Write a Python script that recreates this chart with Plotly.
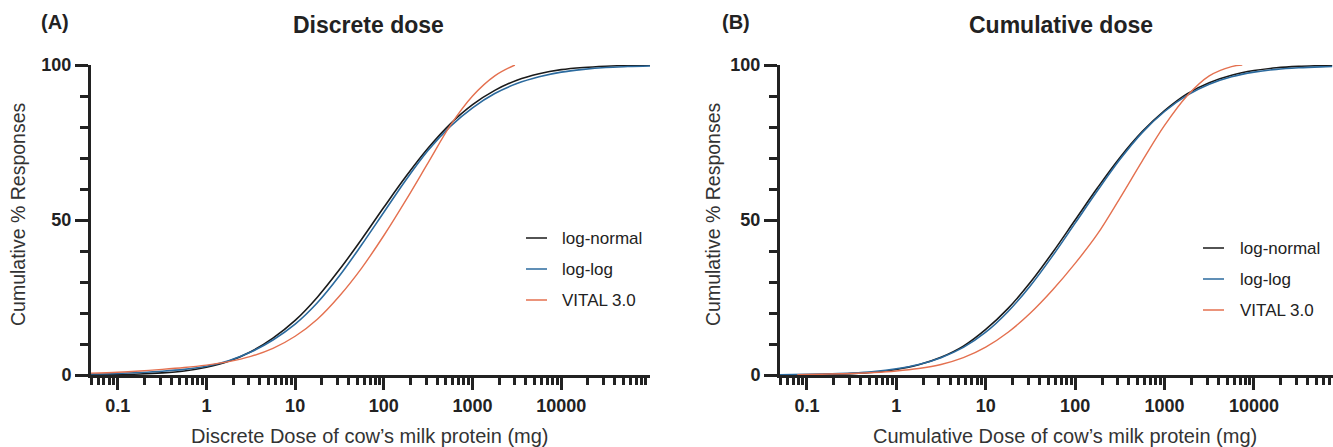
import math
import plotly.graph_objects as go

# ---------------- data ----------------
dose_a = [0.05, 0.1, 0.178, 0.316, 0.562, 1, 1.78, 3.16, 5.62, 10, 17.8, 31.6, 56.2,
          100, 178, 316, 562, 1000, 1780, 3160, 5620, 10000, 17800, 31600, 56200, 100000]
a_lognormal = [0.05, 0.14, 0.32, 0.67, 1.3, 2.5, 4.4, 7.5, 11.9, 17.6, 25.1, 34.0, 43.8,
               54.1, 64.1, 73.2, 81.0, 87.2, 91.8, 95.1, 97.2, 98.5, 99.2, 99.6, 99.84, 99.93]
a_loglog = [0.3, 0.5, 0.8, 1.2, 1.8, 2.8, 4.6, 7.4, 11.3, 16.4, 23.3, 32.0, 42.0,
            52.5, 63.0, 72.5, 80.2, 86.2, 90.8, 94.0, 96.2, 97.7, 98.6, 99.2, 99.5, 99.7]
dose_a_vital = [0.05, 0.1, 0.178, 0.316, 0.562, 1, 1.78, 3.16, 5.62, 10, 17.8, 31.6, 56.2,
                100, 178, 316, 562, 1000, 1780, 3000]
a_vital = [0.6, 0.9, 1.3, 1.8, 2.4, 3.2, 4.3, 6.0, 8.6, 12.5, 18.0, 25.5, 34.5,
           45.0, 56.5, 68.5, 80.5, 90.0, 96.5, 100.0]

dose_b = [0.05, 0.1, 0.178, 0.316, 0.562, 1, 1.78, 3.16, 5.62, 10, 17.8, 31.6, 56.2,
          100, 178, 316, 562, 1000, 1780, 3160, 5620, 10000, 17800, 31600, 56200, 75000]
b_lognormal = [0.03, 0.08, 0.19, 0.43, 0.9, 1.8, 3.3, 5.7, 9.3, 14.7, 21.5, 29.9, 39.6,
               50.0, 60.4, 70.1, 78.5, 85.3, 90.7, 94.3, 96.7, 98.2, 99.1, 99.57, 99.8, 99.9]
b_loglog = [0.1, 0.2, 0.35, 0.6, 1.1, 2.0, 3.4, 5.6, 8.9, 13.8, 20.5, 28.8, 38.5,
            49.0, 59.5, 69.5, 78.2, 85.0, 90.2, 93.8, 96.2, 97.7, 98.6, 99.1, 99.4, 99.5]
dose_b_vital = [0.078, 0.1, 0.178, 0.316, 0.562, 1, 1.78, 3.16, 5.62, 10, 17.8, 31.6, 56.2,
                100, 178, 316, 562, 1000, 1780, 3160, 5620, 7400]
b_vital = [0.1, 0.15, 0.3, 0.5, 0.8, 1.3, 2.1, 3.4, 5.6, 9.0, 13.8, 20.0, 27.5,
           36.0, 45.5, 57.0, 69.0, 80.5, 90.0, 96.5, 99.5, 100.0]

series_names = ["log-normal", "log-log", "VITAL 3.0"]
x_tick_vals = [0.1, 1, 10, 100, 1000, 10000]
x_tick_text = ["0.1", "1", "10", "100", "1000", "10000"]
y_tick_vals = [0, 50, 100]
titles = ["Discrete dose", "Cumulative dose"]
panel_labels = ["(A)", "(B)"]
x_titles = ["Discrete Dose of cow\u2019s milk protein (mg)",
            "Cumulative Dose of cow\u2019s milk protein (mg)"]
y_title = "Cumulative % Responses"

# ---------------- styling ----------------
W, H = 1333, 447
FONT = "Liberation Sans, Arial, Helvetica, sans-serif"
colors = ["#1a1a1a", "#2b6a9e", "#e4704f"]
AX = "#222222"

minor_x = [m * 10.0 ** e for e in range(-2, 6) for m in range(2, 10)]
minor_x = [v for v in minor_x if 0.05 <= v <= 100000]
minor_y = [10, 20, 30, 40, 60, 70, 80, 90]

fig = go.Figure()
panels = [
    ("x", "y", dose_a, a_lognormal, a_loglog, dose_a_vital, a_vital),
    ("x2", "y2", dose_b, b_lognormal, b_loglog, dose_b_vital, b_vital),
]
for xa, ya, d, ln, ll, dv, vt in panels:
    for name, xs, ys, c, w in [(series_names[0], d, ln, colors[0], 1.6),
                               (series_names[1], d, ll, colors[1], 1.6),
                               (series_names[2], dv, vt, colors[2], 1.4)]:
        fig.add_trace(go.Scatter(x=xs, y=ys, mode="lines", name=name, xaxis=xa, yaxis=ya,
                                 line=dict(color=c, width=w, shape="spline", smoothing=1.0),
                                 showlegend=False, hoverinfo="x+y+name"))

# plot area pixel geometry
top_px, bot_px = 65, 375
ph = bot_px - top_px
def py(px):
    return (bot_px - px) / ph

xdomA = [91 / W, 650 / W]
xdomB = [780 / W, 1.0]

TICKFONT = dict(family=FONT, size=18, color=AX, weight="bold")

def xaxis(dom, rng, anchor):
    return dict(domain=dom, type="log", range=rng, anchor=anchor,
                showline=True, linewidth=3, linecolor=AX, mirror=False,
                showgrid=False, zeroline=False,
                ticks="outside", ticklen=12, tickwidth=3, tickcolor=AX,
                tickvals=x_tick_vals, ticktext=x_tick_text,
                tickfont=TICKFONT,
                minor=dict(tickvals=minor_x, ticks="outside", ticklen=7, tickwidth=3,
                           tickcolor=AX, showgrid=False),
                fixedrange=True)

def yaxis(anchor):
    return dict(domain=[0, 1], range=[0, 100], anchor=anchor,
                showline=True, linewidth=3, linecolor=AX,
                showgrid=False, zeroline=False,
                ticks="outside", ticklen=13, tickwidth=3, tickcolor=AX,
                tickvals=y_tick_vals,
                tickfont=TICKFONT,
                minor=dict(tickvals=minor_y, ticks="outside", ticklen=8, tickwidth=3,
                           tickcolor=AX, showgrid=False),
                fixedrange=True)

fig.update_layout(
    width=W, height=H,
    margin=dict(l=0, r=0, t=top_px, b=H - bot_px),
    paper_bgcolor="white", plot_bgcolor="white",
    xaxis=xaxis(xdomA, [math.log10(0.05), 5.0], "y"),
    yaxis=yaxis("x"),
    xaxis2=xaxis(xdomB, [math.log10(0.05), 4.884], "y2"),
    yaxis2=yaxis("x2"),
    showlegend=False,
    font=dict(family=FONT, color="#333333"),
)

ann = []
for lab, lx in zip(panel_labels, [55, 736]):
    ann.append(dict(text=lab, x=lx / W, y=py(22), xref="paper", yref="paper",
                    showarrow=False, xanchor="center", yanchor="middle",
                    font=dict(family=FONT, size=20, color="#222", weight="bold")))
for t, tx in zip(titles, [368, 1061]):
    ann.append(dict(text=t, x=tx / W, y=py(25), xref="paper", yref="paper",
                    showarrow=False, xanchor="center", yanchor="middle",
                    font=dict(family=FONT, size=23, color="#222", weight="bold")))
for t, tx in zip(x_titles, [370, 1065]):
    ann.append(dict(text=t, x=tx / W, y=py(436), xref="paper", yref="paper",
                    showarrow=False, xanchor="center", yanchor="middle",
                    font=dict(family=FONT, size=20, color="#333")))
for tx in [18, 713]:
    ann.append(dict(text=y_title, x=tx / W, y=py(214), xref="paper", yref="paper",
                    showarrow=False, xanchor="center", yanchor="middle", textangle=-90,
                    font=dict(family=FONT, size=19.5, color="#333")))

shapes = []
for (lx0, lx1, tx, ys) in [(526, 547, 560, [238, 269, 300]),
                           (1203, 1224, 1238, [248, 279, 310])]:
    for name, c, yy in zip(series_names, colors, ys):
        shapes.append(dict(type="line", xref="paper", yref="paper",
                           x0=lx0 / W, x1=lx1 / W, y0=py(yy), y1=py(yy),
                           line=dict(color=c, width=1.5)))
        ann.append(dict(text=name, x=tx / W, y=py(yy), xref="paper", yref="paper",
                        showarrow=False, xanchor="left", yanchor="middle",
                        font=dict(family=FONT, size=17, color="#222")))

fig.update_layout(annotations=ann, shapes=shapes)
fig.write_html("out.html", config={"displayModeBar": False},
               post_script="document.body.style.margin='0';")
